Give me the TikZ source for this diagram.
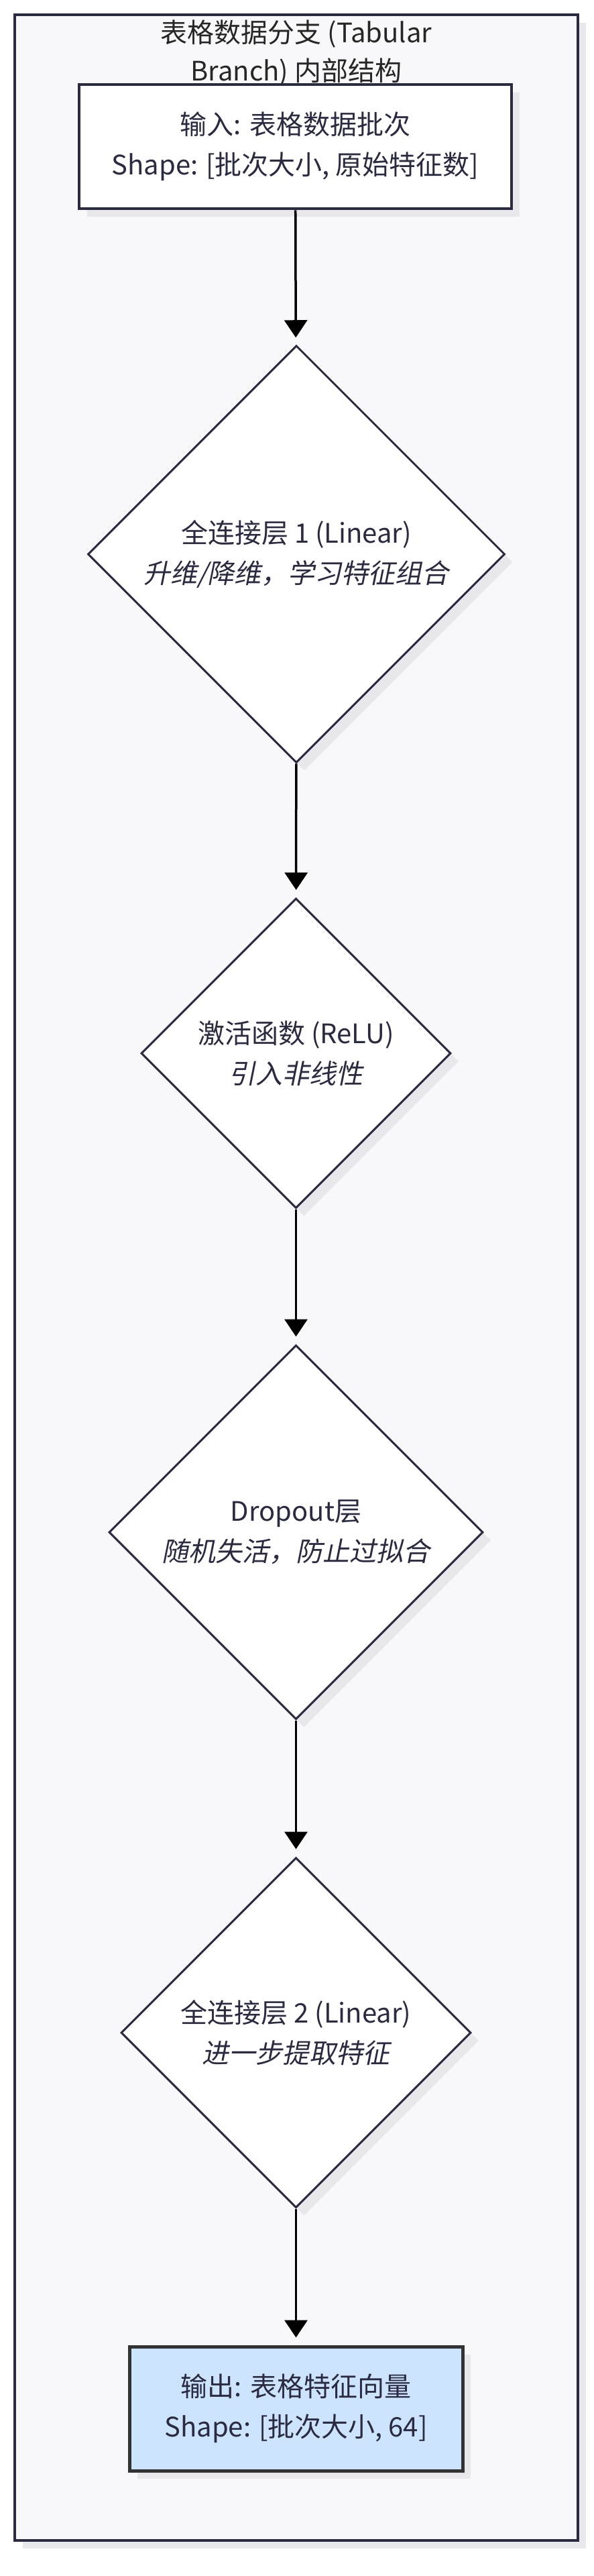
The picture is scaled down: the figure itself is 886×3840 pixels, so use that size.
\documentclass[tikz,border=0pt]{standalone}
\usepackage{fontspec}
\setmainfont{Noto Sans CJK SC}
\newfontfamily\slfont{Noto Sans CJK SC}[FakeSlant=0.2]
\usetikzlibrary{shapes.geometric,shadows,arrows.meta}
\definecolor{framebg}{RGB}{248,248,250}
\definecolor{ink}{RGB}{42,42,64}
\definecolor{shadowc}{RGB}{232,232,236}
\definecolor{outfill}{RGB}{205,228,255}
\definecolor{outline}{RGB}{51,51,51}
\begin{document}
\begin{tikzpicture}[x=0.5pt,y=-0.5pt,
  lbl/.style={font=\fontsize{20pt}{30pt}\selectfont,text=ink,align=center},
  shade/.style={drop shadow={shadow xshift=6pt,shadow yshift=-6pt,fill=shadowc,opacity=1}},
  boxnode/.style={lbl,rectangle,draw=ink,line width=2.25pt,fill=white,inner sep=0pt,shade},
  layer/.style={lbl,diamond,draw=ink,line width=1.5pt,fill=white,inner sep=0pt,aspect=1,shade},
  flow/.style={draw=black,line width=1.75pt,-{Triangle[width=17pt,length=13pt]},shorten >=5.5pt}]
\useasboundingbox (0,0) rectangle (886,3840);
\fill[shadowc] (34,34) rectangle (874,3799);
\draw[ink,line width=2pt,fill=framebg] (22,22) rectangle (862,3787);
\node[font=\fontsize{20pt}{28.5pt}\selectfont,text=black!85,align=center] (title) at (442,79.5) {表格数据分支 (Tabular\\Branch) 内部结构};
\node[boxnode,minimum width=322.5pt,minimum height=92.5pt] (inp) at (440.5,218.5) {输入: 表格数据批次\\Shape: [批次大小, 原始特征数]};
\node[layer,minimum width=311pt,minimum height=311pt] (fcone) at (442,826) {全连接层 1 (Linear)\\{\slfont 升维/降维，学习特征组合}};
\node[layer,minimum width=231pt,minimum height=231pt] (relu) at (441.5,1570) {激活函数 (ReLU)\\{\slfont 引入非线性}};
\node[layer,minimum width=279pt,minimum height=279pt] (drop) at (441.5,2284) {Dropout层\\{\slfont 随机失活，防止过拟合}};
\node[layer,minimum width=261pt,minimum height=261pt] (fctwo) at (441.5,3030) {全连接层 2 (Linear)\\{\slfont 进一步提取特征}};
\node[boxnode,draw=outline,line width=2.5pt,fill=outfill,minimum width=248.5pt,minimum height=92.5pt] (outp) at (441.5,3590.5) {输出: 表格特征向量\\Shape: [批次大小, 64]};
\foreach \a/\b in {inp/fcone,fcone/relu,relu/drop,drop/fctwo,fctwo/outp} {
  \draw[flow] (\a) -- (\b);
}
\end{tikzpicture}
\end{document}
